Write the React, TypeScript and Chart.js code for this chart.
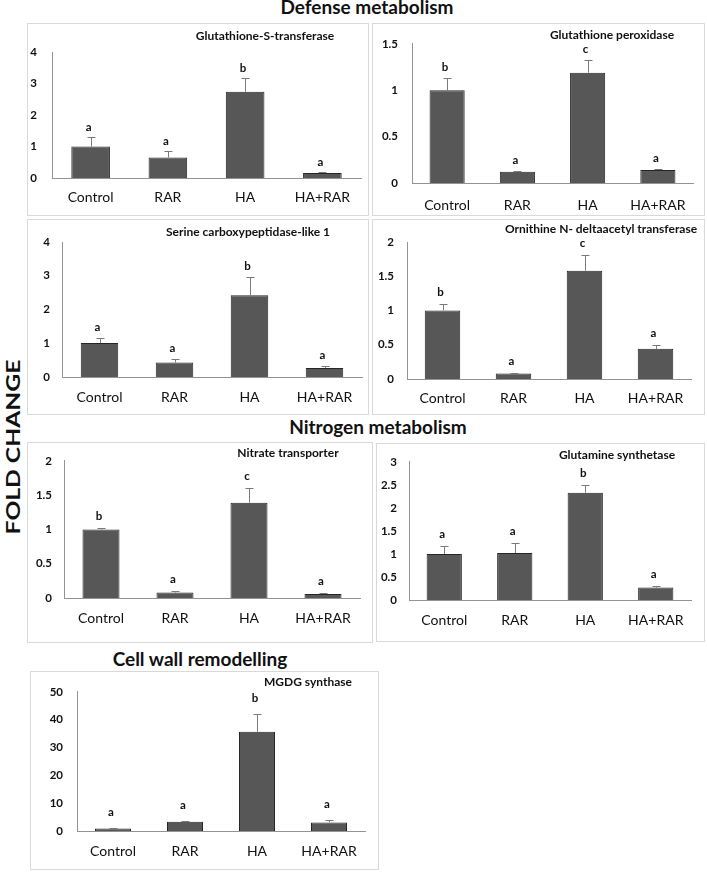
import React, { useEffect, useRef } from 'react';
import { Chart, registerables } from 'chart.js';

Chart.register(...registerables);

const categories = ['Control', 'RAR', 'HA', 'HA+RAR'];

const gstValues = [1.0, 0.65, 2.74, 0.16];
const gstErrors = [0.31, 0.2, 0.43, 0.02];
const gstLetters = ['a', 'a', 'b', 'a'];
const gstTicks = [0, 1, 2, 3, 4];

const gpxValues = [1.0, 0.12, 1.19, 0.14];
const gpxErrors = [0.13, 0.01, 0.14, 0.01];
const gpxLetters = ['b', 'a', 'c', 'a'];
const gpxTicks = [0, 0.5, 1, 1.5];

const scplValues = [1.01, 0.43, 2.42, 0.27];
const scplErrors = [0.15, 0.11, 0.54, 0.05];
const scplLetters = ['a', 'a', 'b', 'a'];
const scplTicks = [0, 1, 2, 3, 4];

const ornValues = [1.0, 0.08, 1.58, 0.44];
const ornErrors = [0.09, 0.005, 0.23, 0.05];
const ornLetters = ['b', 'a', 'c', 'a'];
const ornTicks = [0, 0.5, 1, 1.5, 2];

const nitValues = [1.0, 0.08, 1.39, 0.06];
const nitErrors = [0.02, 0.02, 0.22, 0.01];
const nitLetters = ['b', 'a', 'c', 'a'];
const nitTicks = [0, 0.5, 1, 1.5, 2];

const glnValues = [1.0, 1.02, 2.33, 0.27];
const glnErrors = [0.17, 0.21, 0.17, 0.04];
const glnLetters = ['a', 'a', 'b', 'a'];
const glnTicks = [0, 0.5, 1, 1.5, 2, 2.5, 3];

const mgdgValues = [0.9, 3.3, 35.7, 3.1];
const mgdgErrors = [0.2, 0.2, 6.2, 0.8];
const mgdgLetters = ['a', 'a', 'b', 'a'];
const mgdgTicks = [0, 10, 20, 30, 40, 50];

const FONT = 'Lato, "Open Sans", sans-serif';

type PanelDef = {
  title: string;
  values: number[];
  errors: number[];
  letters: string[];
  ticks: number[];
  box: [number, number, number, number];
  plot: [number, number, number, number];
  titlePos: [number, number];
  tickPad: number;
  labelPad: number;
  gap: number;
};

const panels: PanelDef[] = [
  { title: 'Glutathione-S-transferase', values: gstValues, errors: gstErrors, letters: gstLetters, ticks: gstTicks,
    box: [27, 23, 369, 216], plot: [52, 52, 361, 178], titlePos: [265, 29], tickPad: 15, labelPad: 11, gap: 7 },
  { title: 'Glutathione peroxidase', values: gpxValues, errors: gpxErrors, letters: gpxLetters, ticks: gpxTicks,
    box: [372, 23, 705, 216], plot: [412, 43, 693, 183], titlePos: [612, 28], tickPad: 14, labelPad: 14, gap: 8 },
  { title: 'Serine carboxypeptidase-like 1', values: scplValues, errors: scplErrors, letters: scplLetters, ticks: scplTicks,
    box: [27, 219, 369, 415], plot: [62, 242, 362, 377], titlePos: [248, 225], tickPad: 12, labelPad: 12, gap: 8 },
  { title: 'Ornithine N- deltaacetyl transferase', values: ornValues, errors: ornErrors, letters: ornLetters, ticks: ornTicks,
    box: [372, 219, 705, 415], plot: [407, 242, 691, 379], titlePos: [601, 222], tickPad: 13, labelPad: 11, gap: 9 },
  { title: 'Nitrate transporter', values: nitValues, errors: nitErrors, letters: nitLetters, ticks: nitTicks,
    box: [27, 442, 373, 643], plot: [64, 455, 360, 598], titlePos: [288, 446], tickPad: 12, labelPad: 12, gap: 9 },
  { title: 'Glutamine synthetase', values: glnValues, errors: glnErrors, letters: glnLetters, ticks: glnTicks,
    box: [376, 443, 705, 642], plot: [409, 455, 691, 600], titlePos: [617, 448], tickPad: 12, labelPad: 12, gap: 9 },
  { title: 'MGDG synthase', values: mgdgValues, errors: mgdgErrors, letters: mgdgLetters, ticks: mgdgTicks,
    box: [30, 671, 379, 870], plot: [77, 689, 365, 831], titlePos: [308, 675], tickPad: 14, labelPad: 12, gap: 13 },
];

function makeErrorPlugin(errors: number[], letters: string[], gap: number) {
  return {
    id: 'errLetters',
    afterDatasetsDraw(chart: any) {
      const ctx = chart.ctx;
      const meta = chart.getDatasetMeta(0);
      const ys = chart.scales.y;
      const data = chart.data.datasets[0].data as number[];
      meta.data.forEach((bar: any, i: number) => {
        const v = data[i];
        const yTop = Math.round(ys.getPixelForValue(v + errors[i])) + 0.5;
        const yBar = ys.getPixelForValue(v);
        const x = Math.round(bar.x) + 0.5;
        ctx.save();
        ctx.strokeStyle = '#7a7a7a';
        ctx.lineWidth = 1;
        ctx.beginPath();
        ctx.moveTo(x, yBar);
        ctx.lineTo(x, yTop);
        ctx.moveTo(x - 4, yTop);
        ctx.lineTo(x + 4, yTop);
        ctx.stroke();
        ctx.fillStyle = '#111';
        ctx.font = 'bold 11.5px ' + FONT;
        ctx.textAlign = 'center';
        ctx.textBaseline = 'alphabetic';
        ctx.fillText(letters[i], bar.x - 2, yTop - gap);
        ctx.restore();
      });
    },
  };
}

function Panel({ p }: { p: PanelDef }) {
  const ref = useRef<HTMLCanvasElement | null>(null);
  const [L, T, R, B] = p.box;
  const [pl, pt, pr, pb] = p.plot;
  const w = R - L;
  const h = B - T;
  useEffect(() => {
    if (!ref.current) return;
    const chart = new Chart(ref.current, {
      type: 'bar',
      data: {
        labels: categories,
        datasets: [
          {
            data: p.values,
            backgroundColor: '#575757',
            borderColor: '#262626',
            borderWidth: 1,
            barPercentage: 0.5,
            categoryPercentage: 1,
          },
        ],
      },
      options: {
        responsive: false,
        animation: false,
        devicePixelRatio: 1,
        layout: { padding: { left: 0, top: pt - T, right: R - pr, bottom: 0 } },
        plugins: { legend: { display: false }, tooltip: { enabled: false }, title: { display: false } },
        scales: {
          x: {
            type: 'category',
            offset: true,
            grid: { display: false, drawTicks: false },
            border: { display: true, color: '#939393', width: 1 },
            ticks: { color: '#111', font: { family: FONT, size: 14 }, padding: p.labelPad, maxRotation: 0, autoSkip: false },
            afterFit: (s: any) => { s.height = B - pb; },
          },
          y: {
            min: p.ticks[0],
            max: p.ticks[p.ticks.length - 1],
            grid: { display: false, drawTicks: false },
            border: { display: true, color: '#939393', width: 1 },
            ticks: {
              color: '#111',
              font: { family: FONT, size: 11.5, weight: 'bold' },
              padding: p.tickPad,
              callback: (v: any) => String(v),
            },
            afterBuildTicks: (axis: any) => { axis.ticks = p.ticks.map((v) => ({ value: v })); },
            afterFit: (s: any) => { s.width = pl - L; },
          },
        },
      } as any,
      plugins: [makeErrorPlugin(p.errors, p.letters, p.gap)],
    });
    return () => chart.destroy();
  }, []);
  return (
    <>
      <div style={{ position: 'absolute', left: L, top: T, width: w, height: h, boxSizing: 'border-box', border: '1px solid #d9d9d9' }} />
      <canvas ref={ref} width={w} height={h} style={{ position: 'absolute', left: L, top: T, width: w, height: h }} />
      <div style={{ position: 'absolute', left: p.titlePos[0], top: p.titlePos[1] - 1, transform: 'translateX(-50%)', whiteSpace: 'nowrap',
        font: 'bold 12px ' + FONT, lineHeight: '16px', color: '#111' }}>{p.title}</div>
    </>
  );
}

const headingStyle: React.CSSProperties = {
  position: 'absolute', transform: 'translateX(-50%)', whiteSpace: 'nowrap', font: 'bold 19px ' + FONT, lineHeight: '22px', color: '#111',
};

export default function App() {
  return (
    <div style={{ position: 'absolute', left: 0, top: 0, width: 707, height: 873, background: '#fff', overflow: 'hidden' }}>
      <div style={{ ...headingStyle, left: 367, top: -4 }}>Defense metabolism</div>
      <div style={{ ...headingStyle, left: 378, top: 416 }}>Nitrogen metabolism</div>
      <div style={{ ...headingStyle, left: 200, top: 648 }}>Cell wall remodelling</div>
      <div style={{ position: 'absolute', left: 13, top: 447, transform: 'translate(-50%,-50%) rotate(-90deg) scaleX(1.37)', whiteSpace: 'nowrap',
        font: 'bold 18px ' + FONT, lineHeight: '22px', color: '#111' }}>FOLD CHANGE</div>
      {panels.map((p, i) => <Panel key={i} p={p} />)}
    </div>
  );
}
